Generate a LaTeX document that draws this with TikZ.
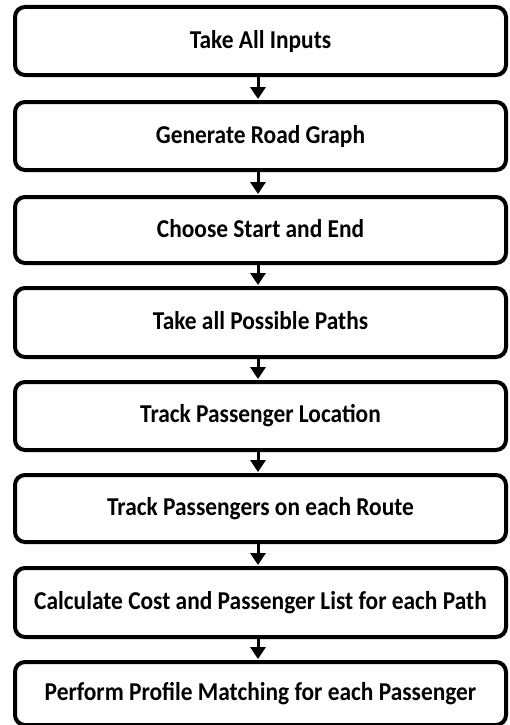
\documentclass[tikz,border=0pt]{standalone}
\usepackage{fontspec}
\setmainfont{Carlito}
\usetikzlibrary{arrows.meta}
\newcommand{\steptext}[1]{\raisebox{4pt}{\scalebox{1}[1.1]{#1}}}
\tikzset{
  stepbox/.style={draw=black, line width=4pt, rounded corners=10pt, fill=white,
    minimum width=491pt, inner sep=0pt, font=\fontsize{23.4}{27}\selectfont\bfseries},
  flow/.style={line width=3pt, -{Triangle[width=15pt,length=12pt]}, shorten >=1pt}
}
\begin{document}
\begin{tikzpicture}[x=1pt,y=1pt]
\clip (0,0) rectangle (509,-725);
\fill[white] (0,0) rectangle (509,-725);
\def\bx{260.5}
\node[stepbox, minimum height=68pt] (b1) at (\bx,-41)  {\steptext{Take All Inputs}};
\node[stepbox, minimum height=68pt] (b2) at (\bx,-136) {\steptext{Generate Road Graph}};
\node[stepbox, minimum height=66pt] (b3) at (\bx,-230) {\steptext{Choose Start and End}};
\node[stepbox, minimum height=69pt] (b4) at (\bx,-322.5) {\steptext{Take all Possible Paths}};
\node[stepbox, minimum height=68pt] (b5) at (\bx,-416) {\steptext{Track Passenger Location}};
\node[stepbox, minimum height=67pt] (b6) at (\bx,-508.5) {\steptext{Track Passengers on each Route}};
\node[stepbox, minimum height=69pt] (b7) at (\bx,-602.5) {\steptext{Calculate Cost and Passenger List for each Path}};
\node[stepbox, minimum height=63pt] (b8) at (\bx,-693.5) {\raisebox{2pt}{\scalebox{1}[1.1]{Perform Profile Matching for each Passenger}}};
\foreach \a/\b in {b1/b2,b2/b3,b3/b4,b4/b5,b5/b6,b6/b7,b7/b8}{
  \draw[flow] ([xshift=-2.5pt]\a.south) -- ([xshift=-2.5pt]\b.north);
}
\end{tikzpicture}
\end{document}
